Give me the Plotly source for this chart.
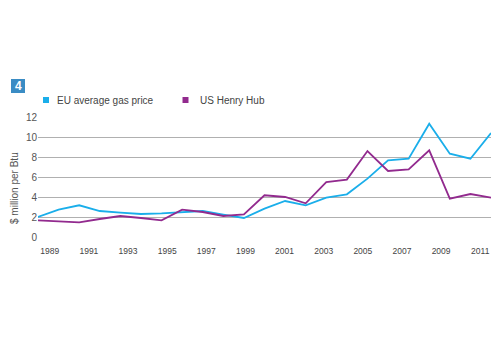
import plotly.graph_objects as go

years = list(range(1989, 2012))
eu_price = [2.0, 2.74, 3.17, 2.6, 2.44, 2.3, 2.36, 2.46, 2.6, 2.23, 1.9,
            2.84, 3.6, 3.17, 3.94, 4.27, 5.84, 7.67, 7.83, 11.33, 8.33, 7.83, 10.4]
us_henry_hub = [1.67, 1.6, 1.47, 1.8, 2.1, 1.9, 1.67, 2.73, 2.5, 2.1, 2.27,
                4.17, 4.0, 3.37, 5.5, 5.74, 8.6, 6.6, 6.77, 8.67, 3.83, 4.3, 3.93]
tick_labels = [1989, 1991, 1993, 1995, 1997, 1999, 2001, 2003, 2005, 2007, 2009, 2011]
y_ticks = [0, 2, 4, 6, 8, 10, 12]

EU_COLOR = "#1aaeea"
US_COLOR = "#922a8e"
W, H = 500, 350
L, R, T, B = 38, 9, 117, 113
pw, ph = W - L - R, H - T - B

def px(x):
    return (x - L) / pw

def py(y):
    return (H - B - y) / ph

# label axis is offset slightly from the data points in the original
lab0, lab1 = 1988.4, 2011.55
tickpos = [years[0] + (t - lab0) * (years[-1] - years[0]) / (lab1 - lab0) for t in tick_labels]

fig = go.Figure()
fig.add_trace(go.Scatter(x=years, y=eu_price, mode="lines", name="EU average gas price",
                         line=dict(color=EU_COLOR, width=1.8), showlegend=False))
fig.add_trace(go.Scatter(x=years, y=us_henry_hub, mode="lines", name="US Henry Hub",
                         line=dict(color=US_COLOR, width=1.8), showlegend=False))

font = "Liberation Sans, Arial, sans-serif"
fig.update_layout(
    width=W, height=H,
    margin=dict(l=L, r=R, t=T, b=B, pad=0),
    paper_bgcolor="white", plot_bgcolor="white",
    font=dict(family=font, color="#444444"),
    xaxis=dict(range=[years[0], years[-1]], tickvals=tickpos,
               ticktext=[str(t) for t in tick_labels], showgrid=False,
               zeroline=False, showline=False, ticks="outside", ticklen=6,
               tickcolor="rgba(0,0,0,0)",
               tickfont=dict(size=8.5, color="#444444"), fixedrange=True),
    yaxis=dict(range=[0, 12], tickvals=y_ticks, showgrid=True, gridcolor="#b0b0b0",
               gridwidth=1.3, zeroline=False, showline=False, ticks="",
               tickfont=dict(size=10, color="#555555"), fixedrange=True),
    showlegend=False,
)

shapes = [
    dict(type="rect", xref="paper", yref="paper", x0=px(11), x1=px(25), y0=py(93), y1=py(79),
         fillcolor="#3a8cc4", line=dict(width=0)),
    dict(type="rect", xref="paper", yref="paper", x0=px(43), x1=px(49), y0=py(103), y1=py(97),
         fillcolor=EU_COLOR, line=dict(width=0)),
    dict(type="rect", xref="paper", yref="paper", x0=px(182.5), x1=px(188.5), y0=py(103), y1=py(97),
         fillcolor=US_COLOR, line=dict(width=0)),
]
annotations = [
    dict(text="<b>4</b>", xref="paper", yref="paper", x=px(18), y=py(86), showarrow=False,
         font=dict(size=12, color="white", family=font), xanchor="center", yanchor="middle"),
    dict(text="EU average gas price", xref="paper", yref="paper", x=px(55), y=py(100),
         showarrow=False, xanchor="left", yanchor="middle", font=dict(size=10, color="#444444")),
    dict(text="US Henry Hub", xref="paper", yref="paper", x=px(197.5), y=py(100),
         showarrow=False, xanchor="left", yanchor="middle", font=dict(size=10, color="#444444")),
    dict(text="$ million per Btu", xref="paper", yref="paper", x=px(14), y=py(188),
         showarrow=False, textangle=-90, xanchor="center", yanchor="middle",
         font=dict(size=10, color="#555555")),
]
fig.update_layout(shapes=shapes, annotations=annotations)

fig.write_html("out.html")
